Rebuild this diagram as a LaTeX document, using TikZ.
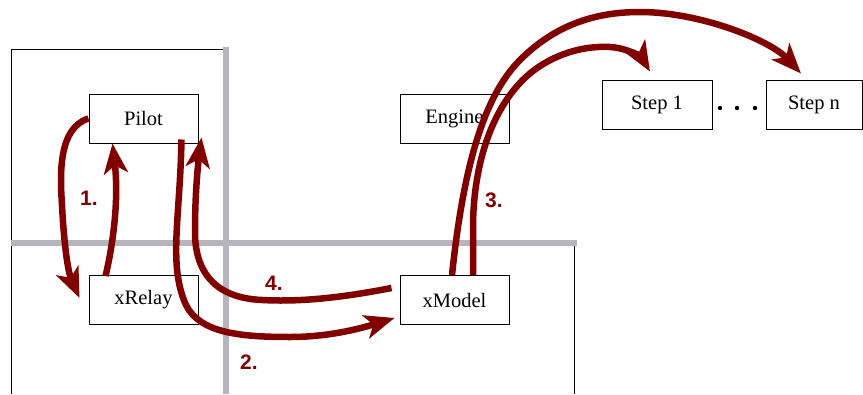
\documentclass[tikz,border=0pt]{standalone}
\usepackage{fontspec}
\setmainfont{Liberation Serif}
\newfontfamily\lblfont{Liberation Sans}
\usetikzlibrary{arrows.meta,calc}
\definecolor{arrred}{RGB}{128,0,0}
\definecolor{framegray}{RGB}{184,180,190}
\begin{document}
\begin{tikzpicture}[x=1pt,y=-1pt,
  box/.style={draw=black,line width=1pt,fill=white,minimum height=49pt,inner sep=0pt,font=\fontsize{20.5}{22}\selectfont},
  flow/.style={draw=arrred,line width=6.5pt,-{Stealth[length=30pt,width=24pt,inset=8pt]}},
  num/.style={text=arrred,font=\lblfont\bfseries\fontsize{21}{23}\selectfont,inner sep=0pt},
  frameline/.style={draw=black,line width=1pt},
  sepline/.style={draw=framegray,line width=5.5pt}]
\useasboundingbox (0,0) rectangle (863,394);
% frame
\draw[frameline] (11,394) -- (11,49) -- (226,49);
\draw[frameline] (574,243) -- (574,394);
\draw[sepline] (226,46.5) -- (226,394);
\draw[sepline] (11,243) -- (576.5,243);
% boxes
\node[box,minimum width=109pt] (pilot) at (143.5,118.5) {Pilot};
\node[box,minimum width=109pt] (xrelay) at (143.5,300) {xRelay};
\node[box,minimum width=109pt] (xmodel) at (454.5,300) {xModel};
\node[box,minimum width=109pt] (engine) at (454.5,118.5) {Engine};
\node[box,minimum width=110pt] (step1) at (657,104.5) {Step 1};
\node[box,minimum width=96pt] (stepn) at (814,104.5) {Step n};
\fill[black] (720,108) circle[radius=2.2pt] (737,108) circle[radius=2.2pt] (755,108) circle[radius=2.2pt];
% arrows
\draw[flow] (pilot.west) .. controls (58,128) and (60,175) .. (62,205) .. controls (64,245) and (68,272) .. ($(xrelay.west)+(-9,-2)$);
\draw[flow] ($(xrelay.north)+(-38,1)$) .. controls (113,245) and (119,200) .. ($(pilot.south)+(-31,0)$);
\draw[flow] ($(pilot.south)+(38,-4)$) .. controls (180,220) and (168,265) .. (186,305) .. controls (200,333) and (240,337) .. (290,337) .. controls (330,337) and (362,328) .. ($(xmodel.west)+(-5,18)$);
\draw[flow] ($(xmodel.west)+(-8,-12)$) .. controls (340,298) and (300,302) .. (262,300) .. controls (215,298) and (195,272) .. (195,232) .. controls (195,192) and (198,165) .. ($(pilot.south east)+(3,-6)$);
\draw[flow] ($(xmodel.north)+(-2.5,0)$) .. controls (462,180) and (480,100) .. (520,60) .. controls (555,25) and (595,12) .. (640,12) .. controls (700,12) and (770,40) .. ($(stepn.north)+(-13,-6)$);
\draw[flow] ($(xmodel.north)+(18.5,0)$) -- (473,225) .. controls (474,150) and (500,92) .. (540,66) .. controls (565,50) and (590,46) .. (610,47) .. controls (628,48) and (642,58) .. ($(step1.north)+(-7,-8)$);
% labels
\node[num] (l1) at (89,198) {1.};
\node[num] (l2) at (249,362) {2.};
\node[num] (l3) at (494,200) {3.};
\node[num] (l4) at (274,283) {4.};
\end{tikzpicture}
\end{document}
